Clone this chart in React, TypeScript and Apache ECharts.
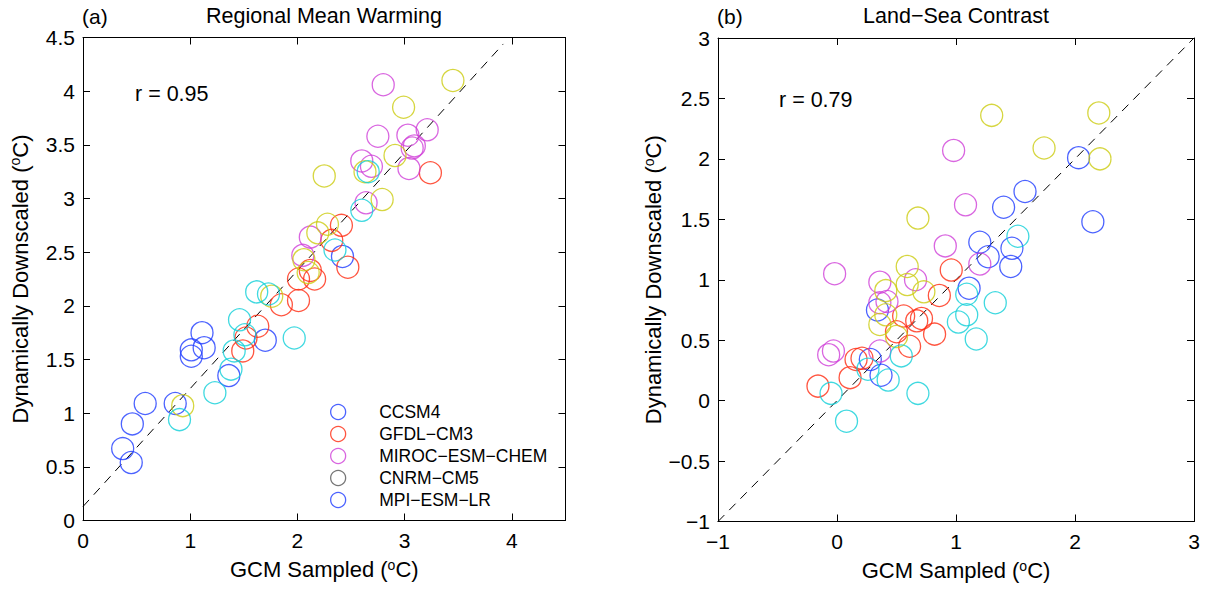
import React, { useEffect, useRef } from "react";
import * as echarts from "echarts";

const models = ["CCSM4", "GFDL-CM3", "MIROC-ESM-CHEM", "CNRM-CM5", "MPI-ESM-LR"];
const modelColors = ["#1f3cff", "#ff2a10", "#d040d8", "#cccc10", "#10d0d8"];
const legendIconColors = ["#1f3cff", "#ff2a10", "#d040d8", "#555555", "#1f3cff"];
const legendLabels = ["CCSM4", "GFDL\u2212CM3", "MIROC\u2212ESM\u2212CHEM", "CNRM\u2212CM5", "MPI\u2212ESM\u2212LR"];

// Panel (a): Regional Mean Warming  [GCM sampled, dynamically downscaled]
const warmCCSM4 = [[2.42, 2.46], [1.70, 1.68], [1.11, 1.75], [1.13, 1.61], [1.01, 1.59], [1.01, 1.53], [1.36, 1.35], [0.58, 1.09], [0.86, 1.09], [0.46, 0.90], [0.37, 0.67], [0.45, 0.54]];
const warmGFDL = [[3.24, 3.24], [2.41, 2.75], [2.32, 2.61], [2.47, 2.36], [2.12, 2.33], [2.01, 2.25], [2.16, 2.25], [1.85, 2.01], [2.01, 2.05], [1.63, 1.81], [1.52, 1.70], [1.49, 1.58]];
const warmMIROC = [[2.80, 4.06], [2.75, 3.58], [3.03, 3.59], [3.21, 3.64], [3.07, 3.47], [3.09, 3.49], [2.60, 3.35], [2.69, 3.30], [3.04, 3.28], [2.64, 2.96], [2.12, 2.64], [2.05, 2.47]];
const warmCNRM = [[3.45, 4.10], [2.99, 3.85], [2.91, 3.40], [2.63, 3.25], [2.25, 3.21], [2.79, 2.99], [2.28, 2.76], [2.19, 2.68], [2.06, 2.43], [2.10, 2.31], [1.76, 2.09], [0.93, 1.07]];
const warmMPI = [[2.66, 3.25], [2.60, 2.89], [2.35, 2.52], [1.62, 2.13], [1.73, 2.11], [1.46, 1.87], [1.51, 1.73], [1.97, 1.70], [1.41, 1.58], [1.38, 1.41], [1.23, 1.19], [0.90, 0.94]];
const warmFitLine = [[0, 0.13], [3.92, 4.44]];

// Panel (b): Land-Sea Contrast
const lsCCSM4 = [[2.03, 2.01], [1.58, 1.73], [1.40, 1.60], [2.15, 1.48], [1.20, 1.31], [1.47, 1.26], [1.27, 1.19], [1.46, 1.11], [1.11, 0.93], [0.34, 0.75], [0.28, 0.34], [0.37, 0.21]];
const lsGFDL = [[0.96, 1.08], [0.86, 0.87], [0.56, 0.70], [0.71, 0.68], [0.67, 0.66], [0.50, 0.57], [0.61, 0.45], [0.82, 0.55], [0.16, 0.34], [0.21, 0.35], [0.11, 0.19], [-0.16, 0.12]];
const lsMIROC = [[0.98, 2.07], [1.08, 1.62], [0.91, 1.28], [1.20, 1.13], [-0.02, 1.05], [0.36, 0.98], [0.66, 1.00], [0.42, 0.82], [0.36, 0.81], [-0.07, 0.38], [-0.03, 0.41], [0.36, 0.41]];
const lsCNRM = [[1.30, 2.36], [2.20, 2.38], [1.74, 2.09], [2.21, 2.00], [0.68, 1.51], [0.59, 1.11], [0.59, 0.96], [0.73, 0.90], [0.41, 0.91], [0.41, 0.71], [0.36, 0.63], [0.50, 0.53]];
const lsMPI = [[1.52, 1.36], [1.09, 0.88], [1.33, 0.81], [1.09, 0.71], [1.02, 0.65], [1.17, 0.51], [0.54, 0.37], [0.26, 0.26], [0.43, 0.17], [-0.05, 0.06], [0.68, 0.06], [0.08, -0.17]];
const lsOneToOne = [[-1, -1], [3, 3]];

const panelTitles = ["Regional Mean Warming", "Land\u2212Sea Contrast"];
const panelTags = ["(a)", "(b)"];
const rValues = ["r = 0.95", "r = 0.79"];

const FONT = "'Liberation Sans', Helvetica, Arial, sans-serif";

export default function App() {
  const ref = useRef<HTMLDivElement>(null);
  useEffect(() => {
    if (!ref.current) return;
    const chart = echarts.init(ref.current, null, { renderer: "svg" });
    const fmt = (v: number) => String(v).replace("-", "\u2212");
    const labelStyle = { color: "#000", fontSize: 21, fontFamily: FONT };
    const nameStyle = { color: "#000", fontSize: 22, fontFamily: FONT };
    const nameRich = {
      sup: { fontSize: 14, fontFamily: FONT, color: "#000", verticalAlign: "top" as const, padding: [0, 0, 10, 0] },
    };
    const baseAxis = (extra: any) => ({
      type: "value",
      splitLine: { show: false },
      axisLine: { show: true, onZero: false, lineStyle: { color: "#000", width: 1 } },
      axisTick: { show: true, inside: true, length: 7, lineStyle: { color: "#000" } },
      ...extra,
    });
    const panels = [
      { data: [warmCCSM4, warmGFDL, warmMIROC, warmCNRM, warmMPI], line: warmFitLine },
      { data: [lsCCSM4, lsGFDL, lsMIROC, lsCNRM, lsMPI], line: lsOneToOne },
    ];
    const series: any[] = [];
    panels.forEach((p, pi) => {
      p.data.forEach((d, mi) => {
        series.push({
          type: "scatter",
          name: models[mi],
          xAxisIndex: pi * 2,
          yAxisIndex: pi * 2,
          data: d,
          symbol: "circle",
          symbolSize: 22,
          itemStyle: { color: "rgba(255,255,255,0)", borderColor: modelColors[mi], borderWidth: 1.3 },
          z: 3,
        });
      });
      series.push({
        type: "line",
        name: "fit" + pi,
        xAxisIndex: pi * 2,
        yAxisIndex: pi * 2,
        data: p.line,
        symbol: "none",
        lineStyle: { color: "#000", width: 1, type: [9, 7] },
        z: 2,
      });
    });

    const option: any = {
      animation: false,
      backgroundColor: "#fff",
      grid: [
        { left: 83, top: 37.5, width: 482.5, height: 483 },
        { left: 718, top: 38, width: 476, height: 483.5 },
      ],
      xAxis: [
        baseAxis({
          gridIndex: 0, min: 0, max: 4.5, interval: 1, position: "bottom",
          axisLabel: { ...labelStyle, margin: 9, formatter: (v: number) => (v === 4.5 ? "" : fmt(v)) },
          name: "GCM Sampled ({sup|o}C)", nameLocation: "middle", nameGap: 37,
          nameTextStyle: { ...nameStyle, rich: nameRich },
        }),
        baseAxis({ gridIndex: 0, min: 0, max: 4.5, interval: 1, position: "top", axisLabel: { show: false } }),
        baseAxis({
          gridIndex: 1, min: -1, max: 3, interval: 1, position: "bottom",
          axisLabel: { ...labelStyle, margin: 9, formatter: fmt },
          name: "GCM Sampled ({sup|o}C)", nameLocation: "middle", nameGap: 37,
          nameTextStyle: { ...nameStyle, rich: nameRich },
        }),
        baseAxis({ gridIndex: 1, min: -1, max: 3, interval: 1, position: "top", axisLabel: { show: false } }),
      ],
      yAxis: [
        baseAxis({
          gridIndex: 0, min: 0, max: 4.5, interval: 0.5, position: "left",
          axisLabel: { ...labelStyle, margin: 8, formatter: fmt },
          name: "Dynamically Downscaled ({sup|o}C)", nameLocation: "middle", nameGap: 51, nameRotate: 90,
          nameTextStyle: { ...nameStyle, rich: nameRich },
        }),
        baseAxis({ gridIndex: 0, min: 0, max: 4.5, interval: 0.5, position: "right", axisLabel: { show: false } }),
        baseAxis({
          gridIndex: 1, min: -1, max: 3, interval: 0.5, position: "left",
          axisLabel: { ...labelStyle, margin: 8, formatter: fmt },
          name: "Dynamically Downscaled ({sup|o}C)", nameLocation: "middle", nameGap: 52, nameRotate: 90,
          nameTextStyle: { ...nameStyle, rich: nameRich },
        }),
        baseAxis({ gridIndex: 1, min: -1, max: 3, interval: 0.5, position: "right", axisLabel: { show: false } }),
      ],
      legend: {
        orient: "vertical",
        left: 325,
        top: 398,
        itemWidth: 72,
        itemHeight: 15,
        itemGap: 4,
        textStyle: { color: "#000", fontSize: 17.5, fontFamily: FONT, lineHeight: 15 },
        formatter: (name: string) => legendLabels[models.indexOf(name)],
        data: models.map((m, i) => ({
          name: m,
          icon: "circle",
          itemStyle: { color: "rgba(255,255,255,0)", borderColor: legendIconColors[i], borderWidth: 1.3 },
        })),
        selectedMode: false,
      },
      graphic: [
        { type: "text", x: 82, y: 16, style: { text: panelTags[0], fontSize: 21, fontFamily: FONT, fill: "#000", verticalAlign: "middle" } },
        { type: "text", x: 717, y: 16, style: { text: panelTags[1], fontSize: 21, fontFamily: FONT, fill: "#000", verticalAlign: "middle" } },
        { type: "text", x: 324, y: 16, style: { text: panelTitles[0], fontSize: 21.5, fontFamily: FONT, fill: "#000", align: "center", verticalAlign: "middle" } },
        { type: "text", x: 956, y: 16, style: { text: panelTitles[1], fontSize: 21.5, fontFamily: FONT, fill: "#000", align: "center", verticalAlign: "middle" } },
        { type: "text", x: 135, y: 94, style: { text: rValues[0], fontSize: 21.5, fontFamily: FONT, fill: "#000", verticalAlign: "middle" } },
        { type: "text", x: 779, y: 100, style: { text: rValues[1], fontSize: 21.5, fontFamily: FONT, fill: "#000", verticalAlign: "middle" } },
      ],
      series,
    };
    chart.setOption(option);
    return () => chart.dispose();
  }, []);
  return <div ref={ref} style={{ width: 1221, height: 592, margin: -8 }} />;
}
